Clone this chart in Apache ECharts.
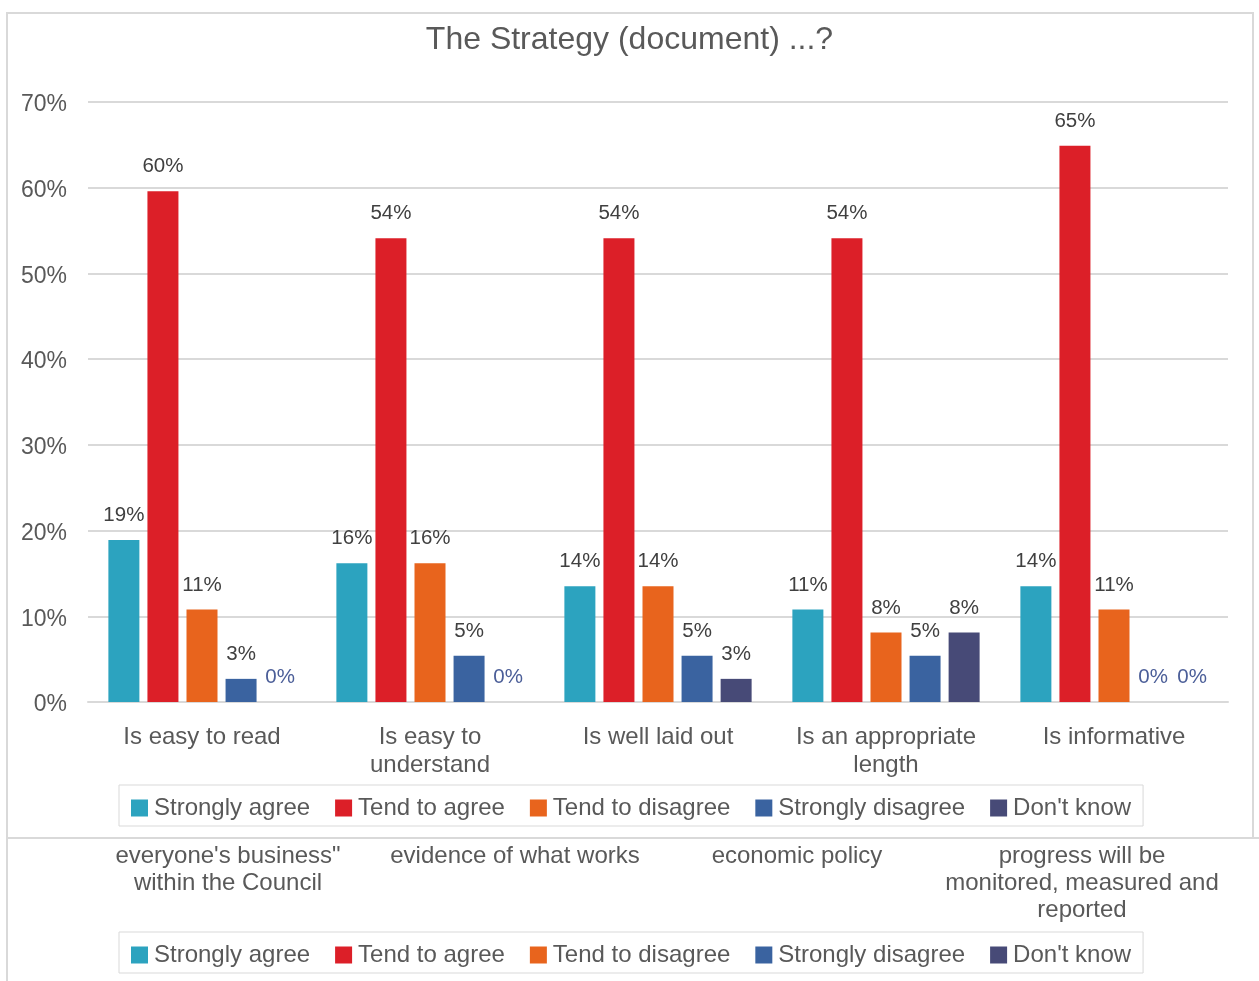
<!DOCTYPE html>
<html>
<head>
<meta charset="utf-8">
<script src="https://cdn.jsdelivr.net/npm/echarts@6/dist/echarts.min.js"></script>
<style>
html,body{margin:0;padding:0;background:#fff;}
#chart{width:1259px;height:981px;}
</style>
</head>
<body>
<div id="chart"></div>
<script>
var categories = ['Is easy to read', 'Is easy to\nunderstand', 'Is well laid out', 'Is an appropriate\nlength', 'Is informative'];
var seriesNames = ['Strongly agree', 'Tend to agree', 'Tend to disagree', 'Strongly disagree', "Don't know"];
var stronglyAgree = [18.9, 16.2, 13.5, 10.8, 13.5];
var tendToAgree = [59.6, 54.1, 54.1, 54.1, 64.9];
var tendToDisagree = [10.8, 16.2, 13.5, 8.1, 10.8];
var stronglyDisagree = [2.7, 5.4, 5.4, 5.4, 0];
var dontKnow = [0, 0, 2.7, 8.1, 0];
var yTicks = [0, 10, 20, 30, 40, 50, 60, 70];
var lowerCategories = ['everyone\'s business"\nwithin the Council', 'evidence of what works', 'economic policy', 'progress will be\nmonitored, measured and\nreported'];
var colors = ['#2ca3bf', '#dc1f28', '#e8641d', '#3a63a0', '#474a77'];

var FONT = '"Liberation Sans", Arial, sans-serif';
var allValues = [stronglyAgree, tendToAgree, tendToDisagree, stronglyDisagree, dontKnow];

function buildData(arr) {
  return arr.map(function (v) {
    return {
      value: v,
      label: { color: v === 0 ? '#4b5e98' : '#404040' }
    };
  });
}

var series = seriesNames.map(function (name, i) {
  return {
    name: name,
    type: 'bar',
    data: buildData(allValues[i]),
    barWidth: 31,
    barGap: '26%',
    itemStyle: { color: colors[i] },
    label: {
      show: true,
      position: 'top',
      distance: 14,
      fontFamily: FONT,
      fontSize: 20.5,
      formatter: function (p) { return Math.round(p.value) + '%'; }
    }
  };
});

var legendBase = {
  data: seriesNames,
  left: 119,
  orient: 'horizontal',
  icon: 'rect',
  itemWidth: 17,
  itemHeight: 17,
  itemGap: 25,
  padding: [11, 12, 6, 12],
  borderColor: '#d9d9d9',
  borderWidth: 1,
  textStyle: { fontFamily: FONT, fontSize: 24, color: '#595959', padding: [0, 0, 0, 1] }
};

var lowerCenters = [228, 515, 797, 1082];
var graphics = [
  { type: 'rect', shape: { x: 7, y: 13, width: 1246, height: 825 }, style: { fill: 'none', stroke: '#d9d9d9', lineWidth: 2 }, silent: true, z: -1 },
  { type: 'line', shape: { x1: 7, y1: 838, x2: 1259, y2: 838 }, style: { stroke: '#d9d9d9', lineWidth: 2 }, silent: true },
  { type: 'line', shape: { x1: 7, y1: 838, x2: 7, y2: 981 }, style: { stroke: '#d9d9d9', lineWidth: 2 }, silent: true }
];
lowerCategories.forEach(function (t, i) {
  graphics.push({
    type: 'text',
    x: lowerCenters[i],
    y: 843,
    style: {
      text: t,
      fontFamily: FONT,
      fontSize: 24,
      fill: '#595959',
      align: 'center',
      verticalAlign: 'top',
      lineHeight: 27
    },
    silent: true
  });
});

var option = {
  backgroundColor: '#fff',
  animation: false,
  color: colors,
  title: {
    text: 'The Strategy (document) ...?',
    left: 'center',
    top: 19,
    textStyle: { fontFamily: FONT, fontSize: 32, fontWeight: 'normal', color: '#595959' }
  },
  legend: [
    Object.assign({}, legendBase, { top: 785 }),
    Object.assign({}, legendBase, { top: 932 })
  ],
  grid: { left: 88, right: 31, top: 102, bottom: 279, containLabel: false },
  xAxis: {
    type: 'category',
    data: categories,
    axisLine: { lineStyle: { color: '#d9d9d9', width: 2 } },
    axisTick: { show: false },
    axisLabel: { fontFamily: FONT, fontSize: 24, color: '#595959', margin: 21, lineHeight: 28, interval: 0 }
  },
  yAxis: {
    type: 'value',
    min: 0,
    max: 70,
    interval: 10,
    axisLine: { show: false },
    axisTick: { show: false },
    splitLine: { lineStyle: { color: '#d9d9d9', width: 2 } },
    axisLabel: {
      fontFamily: FONT, fontSize: 23, color: '#595959', margin: 21,
      verticalAlign: 'top', lineHeight: 6,
      formatter: function (v) { return yTicks.indexOf(v) >= 0 ? v + '%' : ''; }
    }
  },
  graphic: graphics,
  series: series
};

var chart = echarts.init(document.getElementById('chart'), null, { renderer: 'canvas' });
chart.setOption(option);
</script>
</body>
</html>
